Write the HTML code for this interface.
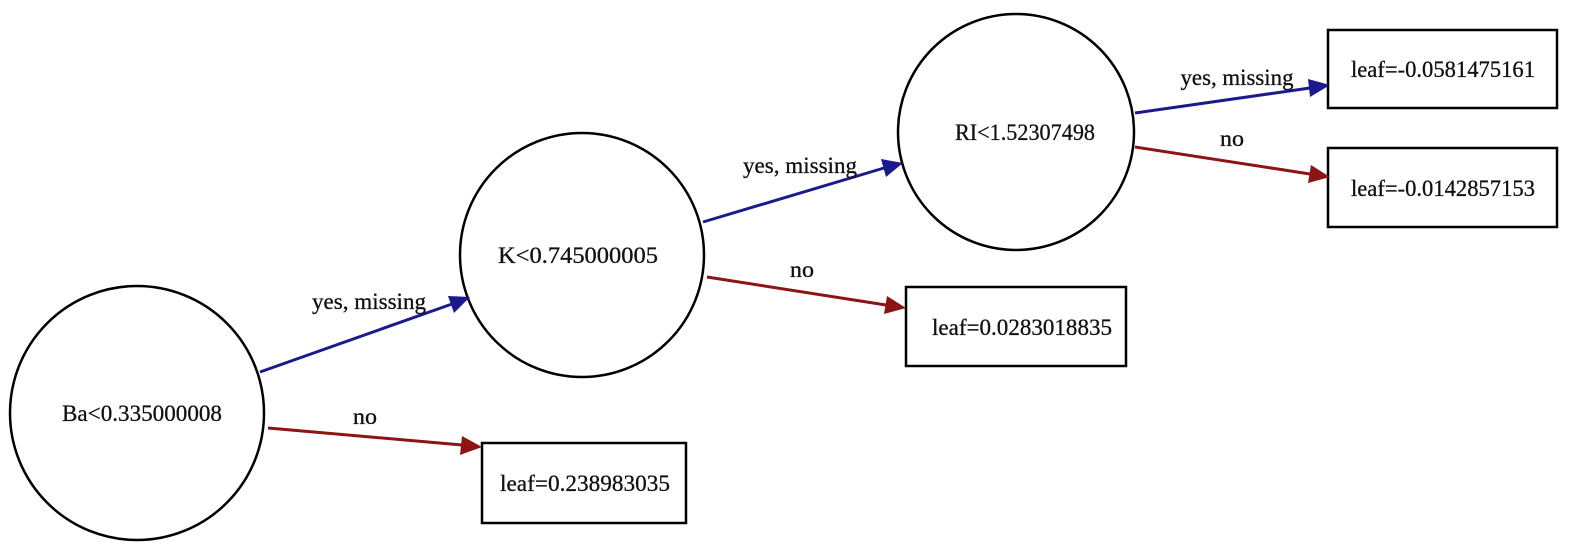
<!DOCTYPE html>
<html><head><meta charset="utf-8"><style>html,body{margin:0;padding:0;background:#fff}svg{display:block}</style></head>
<body>
<svg width="1586" height="559" viewBox="0 0 1586 559" xmlns="http://www.w3.org/2000/svg" font-family="'Liberation Serif', serif" font-size="23">
<g fill="none" stroke="#000" stroke-width="2.5">
<circle cx="137" cy="413" r="127"/>
<circle cx="582" cy="255" r="122"/>
<circle cx="1016" cy="132" r="118"/>
<rect x="482" y="443" width="204" height="80"/>
<rect x="906" y="287" width="220" height="79"/>
<rect x="1328" y="30" width="229" height="78"/>
<rect x="1328" y="148" width="229" height="79"/>
</g>
<g stroke-width="3" fill="none">
<line x1="260" y1="372" x2="452" y2="304" stroke="#1a1a8c"/>
<path d="M448,296 L470,297 L454,313 z" fill="#1a1a8c" stroke="none"/>
<line x1="268" y1="428" x2="462" y2="445" stroke="#8c1414"/>
<path d="M462,436 L482,447 L460,455 z" fill="#8c1414" stroke="none"/>
<line x1="703" y1="222" x2="884" y2="168" stroke="#1a1a8c"/>
<path d="M881,159 L903,163 L886,177 z" fill="#1a1a8c" stroke="none"/>
<line x1="707" y1="277" x2="886" y2="305" stroke="#8c1414"/>
<path d="M887,296 L906,308 L884,314 z" fill="#8c1414" stroke="none"/>
<line x1="1135" y1="113" x2="1310" y2="88" stroke="#1a1a8c"/>
<path d="M1308,79 L1330,85 L1310,97 z" fill="#1a1a8c" stroke="none"/>
<line x1="1135" y1="147" x2="1310" y2="174" stroke="#8c1414"/>
<path d="M1311,165 L1330,177 L1308,183 z" fill="#8c1414" stroke="none"/>
</g>
<g fill="#111" text-anchor="middle" stroke="#111" stroke-width="0.3">
<text x="142" y="421" textLength="160" lengthAdjust="spacingAndGlyphs">Ba&lt;0.335000008</text>
<text x="578" y="263" textLength="160" lengthAdjust="spacingAndGlyphs">K&lt;0.745000005</text>
<text x="1025" y="140" textLength="140" lengthAdjust="spacingAndGlyphs">RI&lt;1.52307498</text>
<text x="585" y="491" textLength="170" lengthAdjust="spacingAndGlyphs">leaf=0.238983035</text>
<text x="1022" y="335" textLength="180" lengthAdjust="spacingAndGlyphs">leaf=0.0283018835</text>
<text x="1443" y="77" textLength="184" lengthAdjust="spacingAndGlyphs">leaf=-0.0581475161</text>
<text x="1443" y="196" textLength="184" lengthAdjust="spacingAndGlyphs">leaf=-0.0142857153</text>
<text x="369" y="309" textLength="114" lengthAdjust="spacingAndGlyphs">yes, missing</text>
<text x="365" y="424" textLength="24" lengthAdjust="spacingAndGlyphs">no</text>
<text x="800" y="173" textLength="114" lengthAdjust="spacingAndGlyphs">yes, missing</text>
<text x="802" y="277" textLength="24" lengthAdjust="spacingAndGlyphs">no</text>
<text x="1237" y="85" textLength="113" lengthAdjust="spacingAndGlyphs">yes, missing</text>
<text x="1232" y="146" textLength="24" lengthAdjust="spacingAndGlyphs">no</text>
</g>
</svg>
</body></html>
